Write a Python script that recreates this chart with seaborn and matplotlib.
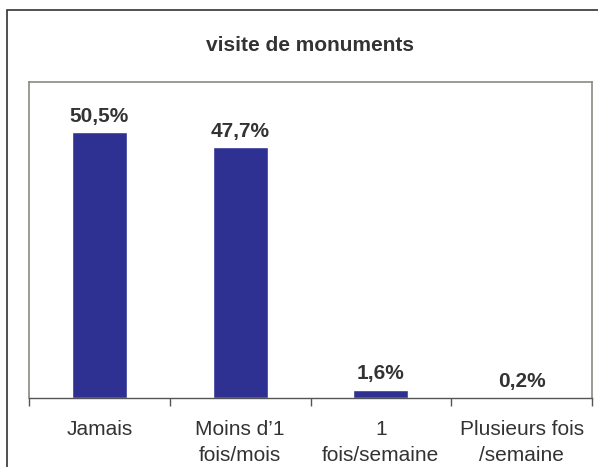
import pandas as pd
import seaborn as sns
import matplotlib.pyplot as plt
from matplotlib.patches import Rectangle

categories = ['Jamais', "Moins d\u20191\nfois/mois", '1\nfois/semaine', 'Plusieurs fois\n/semaine']
values = [50.5, 47.7, 1.6, 0.2]
value_labels = ['50,5%', '47,7%', '1,6%', '0,2%']
title = 'visite de monuments'

sns.set_theme(style='white')
plt.rcParams['font.family'] = ['Liberation Sans', 'DejaVu Sans']

df = pd.DataFrame({'cat': categories, 'val': values})

fig = plt.figure(figsize=(5.98, 4.67), dpi=100)
fig.patch.set_facecolor('white')
fig.patches.append(Rectangle((7 / 598, -0.1), 2, 1 - 10 / 467 + 0.1, transform=fig.transFigure,
                             fill=False, edgecolor='#333333', linewidth=1.2))

ax = fig.add_axes([29 / 598, 1 - 398 / 467, 563 / 598, 316 / 467])
sns.barplot(data=df, x='cat', y='val', color='#2E3192', width=0.39, saturation=1, ax=ax)
ax.set_xlim(-0.5, 3.5)
ax.set_ylim(0, 60)
ax.set_xlabel('')
ax.set_ylabel('')
ax.set_yticks([])

for i, (v, lab) in enumerate(zip(values, value_labels)):
    ax.annotate(lab, (i, v), xytext=(0, 4.5), textcoords='offset points', ha='center', va='bottom',
                fontsize=15, fontweight='bold', color='#333333')

for side in ['left', 'top', 'right']:
    ax.spines[side].set_color('#8c8783')
    ax.spines[side].set_linewidth(1.2)
ax.spines['bottom'].set_color('#555555')
ax.spines['bottom'].set_linewidth(1.0)

ax.set_xticks([0, 1, 2, 3])
ax.set_xticklabels(categories, fontsize=15, color='#333333', linespacing=1.5)
ax.tick_params(axis='x', which='major', length=0, pad=15.5)
ax.set_xticks([-0.5, 0.5, 1.5, 2.5, 3.5], minor=True)
ax.tick_params(axis='x', which='minor', length=6, width=1, color='#555555', bottom=True)

fig.text(310 / 598, 1 - 45 / 467, title, ha='center', va='center', fontsize=15,
         fontweight='bold', color='#333333')

fig.savefig('out.png', dpi=100)
